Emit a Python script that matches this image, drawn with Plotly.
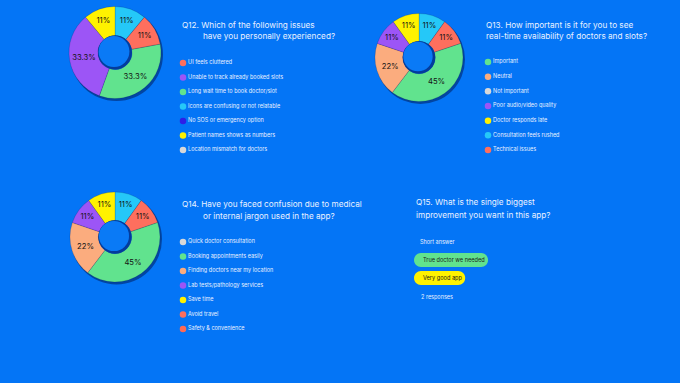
import plotly.graph_objects as go

W, H = 680, 383
BG = "#0475f6"
FONT = "Inter"
TXT = "#e9f1ff"

# ---------------- data ----------------
RED, GREEN, PURPLE, YELLOW, CYAN = "#fe6f5e", "#61e38e", "#9c55f6", "#fff200", "#25c8f8"
PEACH, GRAY, NAVY = "#fbac7e", "#d8d8d8", "#2f1fe6"

# Q12 pie (clockwise from 12 o'clock)
q12_slices = ["Icons are confusing or not relatable", "UI feels cluttered",
              "Long wait time to book doctor/slot", "Unable to track already booked slots",
              "Patient names shows as numbers"]
q12_values = [11, 11, 33.3, 33.3, 11]
q12_text = ["11%", "11%", "33.3%", "33.3%", "11%"]
q12_colors = [CYAN, RED, GREEN, PURPLE, YELLOW]
q12_legend = ["UI feels cluttered", "Unable to track already booked slots",
              "Long wait time to book doctor/slot", "Icons are confusing or not relatable",
              "No SOS or emergency option", "Patient names shows as numbers",
              "Location mismatch for doctors"]
q12_legend_colors = [RED, PURPLE, GREEN, CYAN, NAVY, YELLOW, GRAY]

# Q13 pie
q13_slices = ["Consultation feels rushed", "Technical issues", "Important", "Neutral",
              "Poor audio/video quality", "Doctor responds late"]
q13_values = [11, 11, 45, 22, 11, 11]
q13_text = ["11%", "11%", "45%", "22%", "11%", "11%"]
q13_colors = [CYAN, RED, GREEN, PEACH, PURPLE, YELLOW]
q13_legend = ["Important", "Neutral", "Not important", "Poor audio/video quality",
              "Doctor responds late", "Consultation feels rushed", "Technical issues"]
q13_legend_colors = [GREEN, PEACH, GRAY, PURPLE, YELLOW, CYAN, RED]

# Q14 pie
q14_slices = ["Other", "Avoid travel", "Booking appointments easily",
              "Finding doctors near my location", "Lab tests/pathology services", "Save time"]
q14_values = [11, 11, 45, 22, 11, 11]
q14_text = ["11%", "11%", "45%", "22%", "11%", "11%"]
q14_colors = [CYAN, RED, GREEN, PEACH, PURPLE, YELLOW]
q14_legend = ["Quick doctor consultation", "Booking appointments easily",
              "Finding doctors near my location", "Lab tests/pathology services",
              "Save time", "Avoid travel", "Safety & convenience"]
q14_legend_colors = [GRAY, GREEN, PEACH, PURPLE, YELLOW, RED, "#ff6a55"]

# Q15 short answers
q15_answers = ["True doctor we needed", "Very good app"]
q15_colors = [GREEN, YELLOW]
q15_responses = "2 responses"

# ---------------- helpers ----------------
def px(x):
    return x / W

def py(y):
    return 1 - y / H

def dom(cx, cy, r):
    return dict(x=[px(cx - r), px(cx + r)], y=[py(cy + r), py(cy - r)])

fig = go.Figure()
shapes = []
annotations = []
HOLE = 0.37

def donut(cx, cy, r, labels, values, text, colors):
    # soft shadow behind the ring
    fig.add_trace(go.Pie(values=[1], labels=["shadow"], hole=HOLE, sort=False,
                         domain=dom(cx + 1.5, cy + 2, r + 0.5), textinfo="none",
                         hoverinfo="skip", showlegend=False,
                         marker=dict(colors=["rgba(0,10,60,0.45)"], line=dict(width=0))))
    fig.add_trace(go.Pie(labels=labels, values=values, text=text, hole=HOLE, sort=False,
                         direction="clockwise", rotation=0, domain=dom(cx, cy, r),
                         texttemplate="%{text}", textposition="inside",
                         insidetextorientation="horizontal",
                         textfont=dict(family=FONT, size=7.7, color="#141414"),
                         marker=dict(colors=colors, line=dict(color="rgba(0,0,40,0.25)", width=0.6)),
                         showlegend=False))
    hr = r * HOLE
    shapes.append(dict(type="circle", xref="paper", yref="paper", layer="above",
                       x0=px(cx - hr), x1=px(cx + hr), y0=py(cy + hr), y1=py(cy - hr),
                       fillcolor="#043c9c", line=dict(width=0)))
    hr2 = hr - 1.6
    shapes.append(dict(type="circle", xref="paper", yref="paper", layer="above",
                       x0=px(cx - 1 - hr2), x1=px(cx - 1 + hr2),
                       y0=py(cy - 1 + hr2), y1=py(cy - 1 - hr2),
                       fillcolor="#0a7af6", line=dict(width=0)))

donut(115, 52.5, 46, q12_slices, q12_values, q12_text, q12_colors)
donut(419, 57.5, 44, q13_slices, q13_values, q13_text, q13_colors)
donut(115, 237, 45, q14_slices, q14_values, q14_text, q14_colors)

# ---------------- legends (scatter on own axes) ----------------
def legend_block(idx, mx, y_first, y_last, labels, colors):
    n = len(labels)
    step = (y_last - y_first) / (n - 1)
    top = y_first - step / 2
    bot = y_last + step / 2
    xa, ya = f"xaxis{idx}", f"yaxis{idx}"
    fig.add_trace(go.Scatter(x=[0] * n, y=labels, mode="markers+text",
                             text=labels, textposition="middle right",
                             marker=dict(size=6.5, color=colors, line=dict(width=0)),
                             textfont=dict(family=FONT, size=5.5, color=TXT),
                             cliponaxis=False, hoverinfo="skip", showlegend=False,
                             xaxis=f"x{idx}", yaxis=f"y{idx}"))
    fig.update_layout(**{
        xa: dict(domain=[px(mx - 10), px(mx + 190)], range=[-10, 190], visible=False,
                 fixedrange=True, anchor=f"y{idx}"),
        ya: dict(domain=[py(bot), py(top)], type="category", categoryarray=labels,
                 range=[n - 0.5, -0.5], visible=False, fixedrange=True, anchor=f"x{idx}"),
    })

legend_block(2, 183, 63, 150, q12_legend, q12_legend_colors)
legend_block(3, 488, 62, 150, q13_legend, q13_legend_colors)
legend_block(4, 183, 242, 329, q14_legend, q14_legend_colors)

# ---------------- titles ----------------
def title(x, y, s, size=8.2):
    annotations.append(dict(x=px(x), y=py(y), xref="paper", yref="paper", text=s,
                            showarrow=False, xanchor="left", yanchor="middle",
                            font=dict(family=FONT, size=size, color=TXT)))

title(180, 25, "Q12. Which of the following issues")
title(201, 36.5, "have you personally experienced?")
title(484, 25, "Q13. How important is it for you to see")
title(484, 36.5, "real-time availability of doctors and slots?")
title(180, 204, "Q14. Have you faced confusion due to medical")
title(201, 216, "or internal jargon used in the app?")
title(414, 202, "Q15. What is the single biggest")
title(414, 215, "improvement you want in this app?")
title(418, 242, "Short answer", size=5.5)
title(419, 297, q15_responses, size=5.5)

# ---------------- Q15 answer pills ----------------
def pill(x0, y0, w, h):
    r = h / 2
    x1, y1 = x0 + w, y0 + h
    X = lambda v: px(v)
    Y = lambda v: py(v)
    k = 0.55
    path = (f"M {X(x0 + r)} {Y(y0)} L {X(x1 - r)} {Y(y0)} "
            f"C {X(x1 - r + k * r)} {Y(y0)} {X(x1)} {Y(y0 + r - k * r)} {X(x1)} {Y(y0 + r)} "
            f"C {X(x1)} {Y(y0 + r + k * r)} {X(x1 - r + k * r)} {Y(y1)} {X(x1 - r)} {Y(y1)} "
            f"L {X(x0 + r)} {Y(y1)} "
            f"C {X(x0 + r - k * r)} {Y(y1)} {X(x0)} {Y(y0 + r + k * r)} {X(x0)} {Y(y0 + r)} "
            f"C {X(x0)} {Y(y0 + r - k * r)} {X(x0 + r - k * r)} {Y(y0)} {X(x0 + r)} {Y(y0)} Z")
    return path

for i, (ans, col) in enumerate(zip(q15_answers, q15_colors)):
    y0 = 253 + i * 18
    w = len(ans) * 2.86 + 14
    shapes.append(dict(type="path", xref="paper", yref="paper", path=pill(414, y0, w, 14),
                       fillcolor=col, line=dict(width=0), layer="above"))
    annotations.append(dict(x=px(420.5), y=py(y0 + 7), xref="paper", yref="paper", text=ans,
                            showarrow=False, xanchor="left", yanchor="middle",
                            font=dict(family=FONT, size=5.6, color="#1a1a1a")))

fig.update_layout(width=W, height=H, margin=dict(l=0, r=0, t=0, b=0),
                  paper_bgcolor=BG, plot_bgcolor=BG, shapes=shapes, annotations=annotations,
                  showlegend=False,
                  xaxis=dict(visible=False), yaxis=dict(visible=False))

fig.write_html("out.html")
